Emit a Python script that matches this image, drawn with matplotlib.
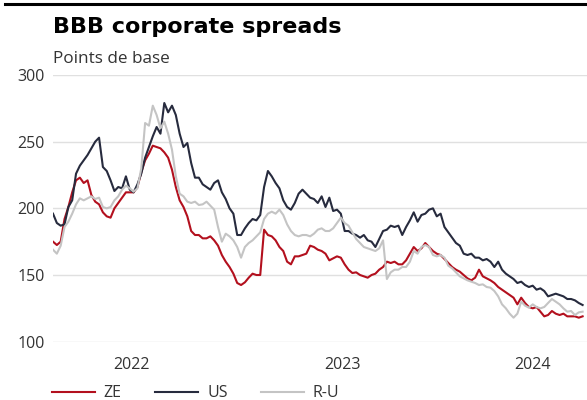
import matplotlib
matplotlib.use('Agg')
import matplotlib.pyplot as plt
from matplotlib.lines import Line2D
import pandas as pd

# weekly observations, BBB spreads in basis points
dates = pd.date_range('2021-08-10', periods=139, freq='7D')

ze = [175, 172.5, 175, 192, 201, 212, 221, 223, 219, 221,
      210, 205, 203, 197, 194, 193, 200, 204, 208, 212,
      212, 212, 216, 227, 236, 241, 247, 246, 245, 242,
      238, 229, 216, 206, 201, 194, 183, 180, 180, 177.5,
      177.5, 179, 176, 172, 165, 160, 156, 151, 144, 142.5,
      144.5, 148, 151, 150, 150, 184, 180, 179, 176, 171,
      168, 160, 158, 164, 164, 165, 166, 172, 171, 169,
      168, 166, 161, 162.5, 164, 163, 158, 154, 151.5, 152,
      150, 149, 148, 150, 151, 154, 156, 160, 159, 160,
      158, 158, 161, 166, 171, 168, 170, 174, 171, 168,
      166, 165, 162, 159, 156, 154, 152.5, 150, 147.5, 146,
      148, 154, 149, 147.5, 146, 144, 141, 139, 137, 135,
      133, 128, 133, 129, 126, 125, 126, 122.5, 119, 120,
      123, 121, 120, 121, 119, 119, 119, 118, 119]

us = [196, 189, 187, 188, 201, 206, 226, 232, 236, 240,
      245, 250, 253, 231, 228, 221, 213, 216, 215, 224,
      214, 212, 218, 226, 238, 246, 254, 261, 256, 279,
      272, 277, 270, 256, 246, 249, 234, 223, 223, 218,
      216, 214, 219, 221, 212, 207, 200, 196, 180, 180,
      185, 189, 192, 191, 195, 216, 228, 224, 219, 215,
      206, 201, 199, 204, 211, 214, 211, 208, 207, 204,
      209, 201, 208, 198, 199, 196, 183, 183, 181, 180,
      178, 180, 176, 175, 171, 177, 183, 184, 187, 186,
      187, 180, 186, 191, 197, 190, 195, 196, 199, 200,
      194, 196, 186, 182, 178, 174, 172, 166, 165, 166,
      163, 163, 161, 162, 160, 156, 160, 154, 151, 149,
      147, 144, 145, 142.5, 141, 142, 139, 140, 138, 134,
      135, 136, 135, 134, 132, 132, 131, 129, 127.5]

ru = [169, 166, 172, 186, 190, 196, 203, 207.5, 206, 207.5,
      209, 207, 208, 201, 200, 201, 206, 209, 214, 217,
      215, 212.5, 215, 230, 264, 262, 277, 270, 260, 265,
      256, 244, 224, 211, 209, 205, 204, 205, 202.5, 203,
      205, 202, 199, 186, 175, 181, 179, 176, 171, 163,
      171, 174, 176, 179, 182, 192, 196, 197.5, 196, 199,
      195, 188, 183, 180, 179, 180, 180, 179, 181, 184,
      185, 183, 183, 185, 189, 193, 189, 187, 182, 177,
      174, 171, 170, 169, 168, 170, 176, 147, 152, 154,
      154, 156, 156, 160, 168, 166, 171, 172.5, 171, 165,
      164, 165, 163, 157, 155, 152, 149, 147.5, 146, 145,
      144, 142.5, 143, 141, 140.5, 138, 134, 128, 125, 121,
      118, 121, 130, 127, 125.5, 128, 126, 125, 126, 129,
      132, 130, 128, 125, 122.5, 123, 120, 122, 122.5]

labels = ['ZE', 'US', 'R-U']
colors = ['#b3101e', '#272b3e', '#c4c4c4']
year_ticks = pd.to_datetime(['2022-01-01', '2023-01-20', '2024-01-01'])
year_labels = ['2022', '2023', '2024']
y_ticks = [100, 150, 200, 250, 300]

plt.rcParams['font.family'] = ['Open Sans', 'DejaVu Sans']

fig = plt.figure(figsize=(5.87, 4.0), dpi=100)
ax = fig.add_axes([0.0903, 0.1458, 0.9097, 0.6667])

for vals, lab, col in zip([ze, us, ru], labels, colors):
    ax.plot(dates, vals, color=col, lw=1.5, label=lab, solid_joinstyle='round')

ax.set_ylim(100, 300)
ax.set_yticks(y_ticks)
ax.set_xlim(pd.Timestamp('2021-08-10'), pd.Timestamp('2024-04-10'))
ax.set_xticks(year_ticks)
ax.set_xticklabels(year_labels)

ax.grid(axis='y', color='#e0e0e0', lw=1)
ax.grid(axis='x', visible=False)
ax.set_axisbelow(True)
for s in ax.spines.values():
    s.set_visible(False)
ax.tick_params(axis='y', length=0, pad=6, labelsize=11.5, labelcolor='#333333')
ax.tick_params(axis='x', length=0, pad=11, labelsize=11.5, labelcolor='#333333')

# heading block
fig.add_artist(Line2D([0.008, 1.0], [0.989, 0.989], color='black', lw=2.2))
fig.text(0.0903, 0.918, 'BBB corporate spreads', fontsize=16, fontweight='bold',
         family='DejaVu Sans', color='#000000', va='baseline')
fig.text(0.0903, 0.842, 'Points de base', fontsize=12.3, color='#333333', va='baseline')

ax.legend(loc='center left', bbox_to_anchor=(0.088, 0.017), bbox_transform=fig.transFigure,
          ncol=3, frameon=False, fontsize=11.5, handlelength=2.7, handletextpad=0.55,
          columnspacing=2.1, borderpad=0, borderaxespad=0, labelcolor='#333333')

fig.savefig('out.png', dpi=100)
